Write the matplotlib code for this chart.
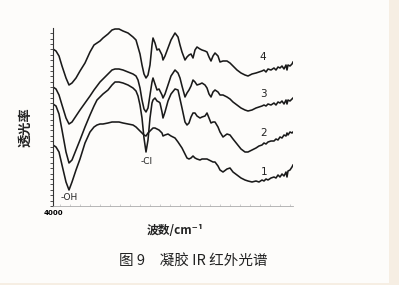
import numpy as np
import matplotlib
matplotlib.use("Agg")
import matplotlib.pyplot as plt
from matplotlib.ticker import MultipleLocator
from matplotlib.patches import Rectangle

# ---- data (arbitrary transmittance units) ----
wavenumber = [4000, 3955, 3910, 3865, 3805, 3760, 3715, 3655, 3595, 3520,
              3445, 3385, 3340, 3295, 3250, 3175, 3115, 3070, 3010, 2950,
              2875, 2800, 2755, 2725, 2695, 2665, 2635, 2605, 2575, 2545,
              2515, 2500, 2470, 2440, 2410, 2395, 2365, 2350, 2320, 2275,
              2230, 2170, 2125, 2095, 2065, 2020, 1990, 1960, 1930, 1900,
              1870, 1840, 1795, 1765, 1720, 1690, 1660, 1630, 1600, 1570,
              1525, 1495, 1450, 1390, 1345, 1300, 1240, 1180, 1120, 1075,
              1015, 955, 910, 865, 835, 805, 775, 730, 685, 655,
              625, 595, 565, 535, 505, 490, 475, 445, 415, 400]

spectrum_4 = [157, 155, 150, 140, 128, 121, 123, 128, 135, 143,
              154, 161, 163, 165, 168, 172, 176, 177, 177, 175,
              173, 169, 166, 159, 152, 141, 132, 128, 131, 141,
              161, 168, 163, 156, 157, 155, 151, 146, 150, 158,
              166, 173, 169, 161, 154, 146, 149, 151, 152, 148,
              156, 159, 157, 156, 155, 154, 149, 145, 150, 153,
              150, 144, 145, 145, 143, 140, 136, 133, 131, 130,
              132, 133, 134, 135, 136, 134, 137, 136, 138, 136,
              139, 138, 140, 137, 141, 136, 141, 140, 142, 144]

spectrum_3 = [119, 117, 111, 101, 88, 82, 84, 90, 96, 103,
              110, 116, 120, 124, 127, 132, 136, 137, 137, 136,
              134, 132, 130, 126, 118, 106, 97, 94, 98, 111,
              124, 128, 122, 116, 117, 115, 111, 108, 112, 121,
              130, 136, 133, 128, 120, 109, 113, 116, 120, 126,
              124, 121, 122, 123, 121, 118, 112, 109, 114, 116,
              114, 111, 111, 109, 107, 104, 101, 98, 96, 95,
              96, 98, 99, 100, 101, 100, 102, 101, 103, 101,
              104, 103, 105, 102, 106, 102, 106, 105, 107, 108]

spectrum_2 = [102, 100, 92, 76, 54, 43, 46, 56, 66, 79,
              91, 100, 106, 109, 112, 116, 121, 124, 124, 123,
              121, 118, 115, 110, 101, 88, 68, 54, 66, 88,
              103, 106, 108, 105, 104, 103, 94, 88, 94, 105,
              112, 117, 116, 107, 98, 84, 81, 83, 89, 93,
              93, 90, 88, 89, 90, 93, 88, 83, 84, 84,
              79, 74, 69, 72, 71, 67, 62, 57, 54, 54,
              56, 58, 60, 61, 63, 62, 64, 65, 65, 67,
              66, 69, 68, 71, 70, 73, 71, 74, 73, 74]

spectrum_1 = [61, 59, 54, 41, 24, 16, 24, 36, 47, 63,
              74, 79, 81, 82, 82, 83, 84, 84, 84, 83,
              82, 81, 79, 77, 75, 73, 71, 70, 73, 75,
              77, 78, 78, 77, 76, 75, 73, 70, 71, 72,
              70, 68, 64, 61, 58, 52, 48, 47, 48, 50,
              48, 47, 46, 47, 47, 47, 46, 45, 44, 44,
              40, 36, 34, 37, 38, 34, 31, 28, 26, 25,
              24, 25, 24, 26, 25, 27, 26, 28, 29, 28,
              31, 29, 32, 30, 34, 29, 35, 36, 39, 41]

series = [spectrum_1, spectrum_2, spectrum_3, spectrum_4]
series_labels = ["1", "2", "3", "4"]
label_pos = [(835, 34), (835, 73), (850, 112), (850, 149)]
band_labels = ["-OH", "-Cl"]
band_pos = [(3760, 8), (2590, 45)]

title_text = "图 9　凝胶 IR 红外光谱"
xlabel_text = "波数/cm⁻¹"
ylabel_text = "透光率"

CJK = ["Noto Sans CJK SC", "DejaVu Sans"]

fig = plt.figure(figsize=(3.99, 2.85), dpi=100)
fig.patch.set_facecolor("#fdfcfa")
# cream page border of the scan
fig.patches.append(Rectangle((389 / 399, 0), 1, 1, transform=fig.transFigure,
                             facecolor="#f6eee3", edgecolor="none", zorder=0))
fig.patches.append(Rectangle((0, 0), 1, 2 / 285, transform=fig.transFigure,
                             facecolor="#f6eee3", edgecolor="none", zorder=0))

ax = fig.add_axes([53 / 399, 1 - 206 / 285, 240 / 399, 178 / 285])
ax.set_facecolor("none")

for s in series:
    ax.plot(wavenumber, s, color="#1a1a1a", lw=1.15, solid_joinstyle="round")

for lab, (x, y) in zip(series_labels, label_pos):
    ax.text(x, y, lab, fontsize=7.5, ha="center", va="center", color="#222222")
for lab, (x, y) in zip(band_labels, band_pos):
    ax.text(x, y, lab, fontsize=6.5, ha="center", va="center", color="#222222")

ax.set_xlim(4000, 400)
ax.set_ylim(0, 178)

for side in ["top", "right"]:
    ax.spines[side].set_visible(False)
ax.spines["left"].set_color("#333333")
ax.spines["left"].set_linewidth(0.8)
ax.spines["bottom"].set_color("#aaaaaa")
ax.spines["bottom"].set_linewidth(0.6)

ax.yaxis.set_major_locator(MultipleLocator(5.4))
ax.tick_params(axis="y", direction="out", length=2, width=0.6, color="#333333",
               labelleft=False)
ax.set_xticks([4000])
ax.set_xticklabels(["4000"], fontsize=5, fontweight="bold")
ax.xaxis.set_minor_locator(MultipleLocator(150))
ax.tick_params(axis="x", which="major", direction="in", length=2, width=0.5,
               color="#aaaaaa", pad=3)
ax.tick_params(axis="x", which="minor", direction="in", length=1.5, width=0.5,
               color="#bbbbbb")

fig.text(175 / 399, 1 - 231 / 285, xlabel_text, family=CJK, fontsize=8.5,
         fontweight="bold", ha="center", va="center", color="#222222")
fig.text(25 / 399, 1 - 127 / 285, ylabel_text, family=CJK, fontsize=9.5,
         fontweight="bold", ha="center", va="center", rotation=90, color="#222222")
fig.text(193 / 399, 1 - 262 / 285, title_text, family=CJK, fontsize=10.5,
         ha="center", va="center", color="#222222")

fig.savefig("out.png", dpi=100, facecolor=fig.get_facecolor())
